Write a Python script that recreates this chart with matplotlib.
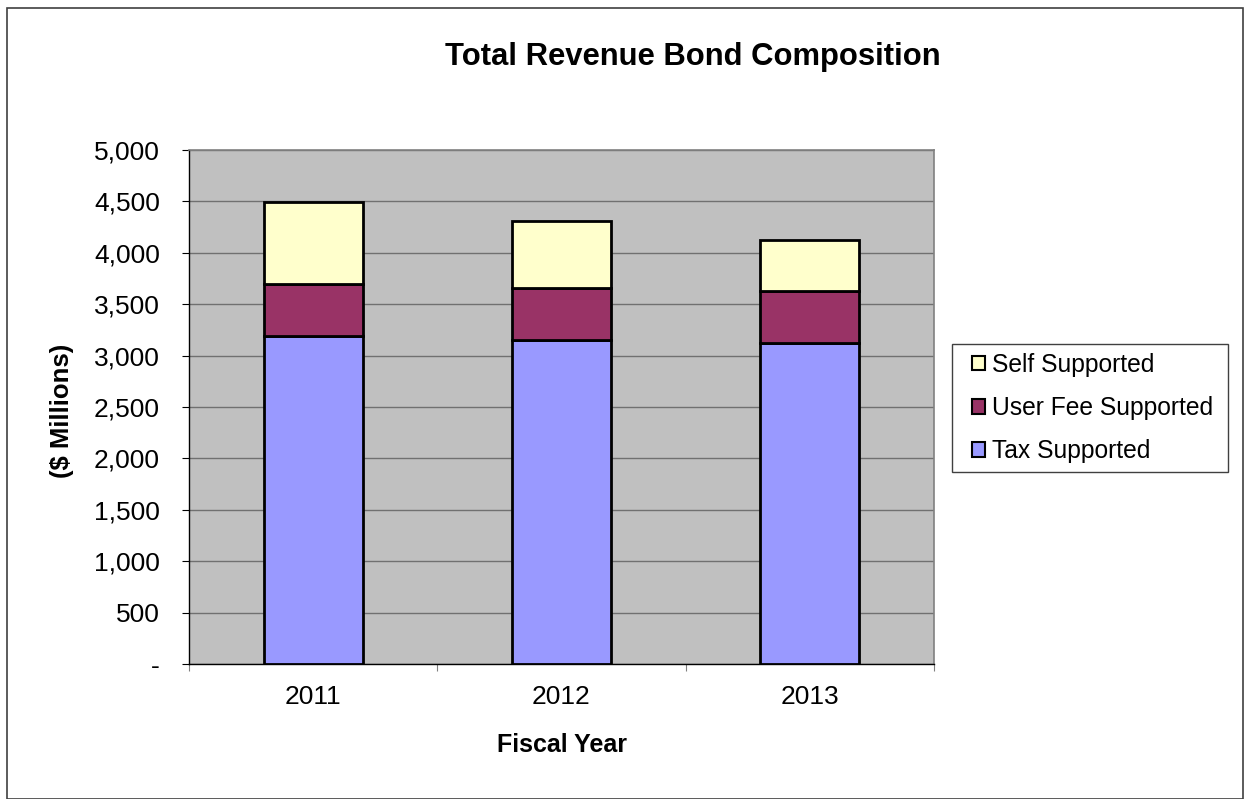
import matplotlib
matplotlib.use("Agg")
import matplotlib.pyplot as plt
from matplotlib.patches import Rectangle, Patch
from matplotlib.ticker import FuncFormatter, MultipleLocator, FixedLocator

plt.rcParams['font.family'] = ['Liberation Sans', 'DejaVu Sans']

years = ['2011', '2012', '2013']
tax_supported = [3195, 3150, 3120]
user_fee_supported = [500, 505, 505]
self_supported = [795, 650, 495]

series = [
    ('Tax Supported', tax_supported, '#9999FF'),
    ('User Fee Supported', user_fee_supported, '#993366'),
    ('Self Supported', self_supported, '#FFFFCC'),
]

W, H = 1244, 799
fig = plt.figure(figsize=(W / 100, H / 100), dpi=100)
fig.patch.set_facecolor('white')

# outer chart border
fig.patches.append(Rectangle((7 / W, 0.5 / H), (1243 - 7) / W, (799 - 8.5) / H,
                             transform=fig.transFigure, fill=False,
                             edgecolor='#404040', linewidth=1.2))

ax = fig.add_axes([189 / W, 1 - 664 / H, (934 - 189) / W, (664 - 150) / H])
ax.set_facecolor('#C0C0C0')

x = range(len(years))
bottom = [0] * len(years)
for name, vals, color in series:
    ax.bar(x, vals, width=0.4, bottom=bottom, color=color, edgecolor='black',
           linewidth=2.0, label=name, zorder=3)
    bottom = [b + v for b, v in zip(bottom, vals)]

ax.set_xlim(-0.5, len(years) - 0.5)
ax.set_ylim(0, 5000)
ax.yaxis.set_major_locator(MultipleLocator(500))
ax.yaxis.set_major_formatter(FuncFormatter(lambda v, p: f'{v:,.0f}' if v else '-'))
ax.grid(axis='y', color='#707070', linewidth=1.0, zorder=1)

ax.set_xticks(list(x))
ax.set_xticklabels(years)
ax.xaxis.set_minor_locator(FixedLocator([-0.5, 0.5, 1.5, 2.5]))
ax.tick_params(axis='x', which='major', length=0, pad=15, labelsize=19)
ax.tick_params(axis='x', which='minor', length=5, width=0.8, color='#808080', direction='out')
ax.tick_params(axis='y', length=5, width=0.8, pad=16, labelsize=19, direction='out')

for s in ['top', 'right']:
    ax.spines[s].set_color('#808080')
    ax.spines[s].set_linewidth(1.2)
for s in ['left', 'bottom']:
    ax.spines[s].set_color('black')
    ax.spines[s].set_linewidth(1.0)

fig.text(693 / W, 1 - 57 / H, 'Total Revenue Bond Composition', fontsize=22.3,
         fontweight='bold', ha='center', va='center')
fig.text(62 / W, 1 - 411 / H, '($ Millions)', fontsize=18.5, fontweight='bold',
         rotation=90, ha='center', va='center')
fig.text(562 / W, 1 - 745 / H, 'Fiscal Year', fontsize=18, fontweight='bold',
         ha='center', va='center')

# legend box drawn by hand so the padding matches
fig.patches.append(Rectangle((952 / W, 1 - 472 / H), (1228 - 952) / W, (472 - 344) / H,
                             transform=fig.transFigure, facecolor='white',
                             edgecolor='#404040', linewidth=1.0, zorder=5))
handles = [Patch(facecolor=c, edgecolor='black', linewidth=1.5, label=n)
           for n, v, c in reversed(series)]
leg = fig.legend(handles=handles, loc='center left',
                 bbox_to_anchor=(972 / W, 1 - 408 / H), fontsize=17.7,
                 frameon=False, handlelength=0.53, handleheight=0.53,
                 handletextpad=0.3, labelspacing=0.78,
                 borderpad=0, borderaxespad=0)
leg.set_zorder(6)

fig.savefig('out.png', dpi=100)
